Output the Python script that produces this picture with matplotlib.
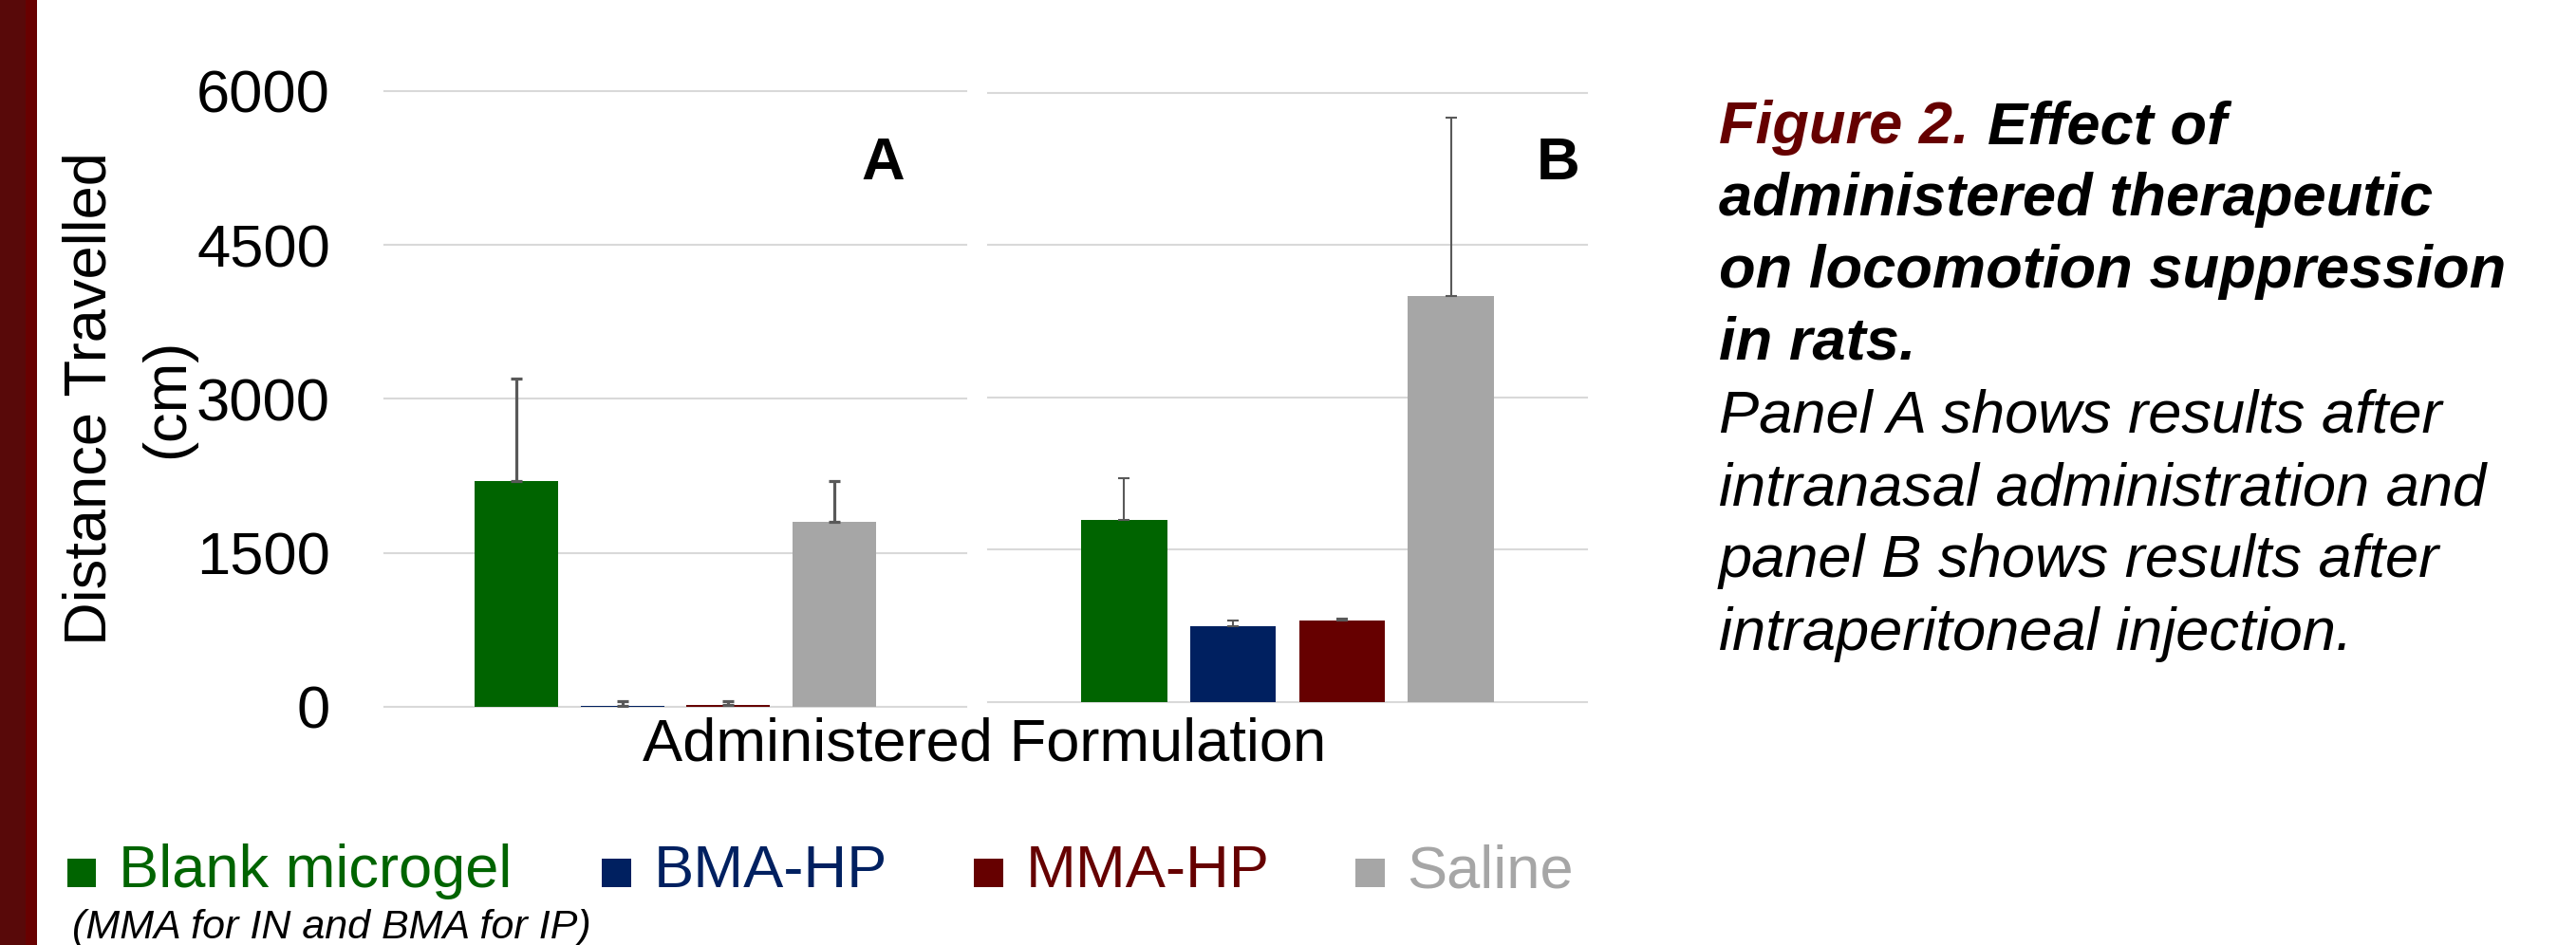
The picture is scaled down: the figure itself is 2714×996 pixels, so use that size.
import matplotlib
matplotlib.use("Agg")
import matplotlib.pyplot as plt
from matplotlib.patches import Rectangle
import numpy as np

# ---------------- data ----------------
categories = ["Blank microgel", "BMA-HP", "MMA-HP", "Saline"]
bar_colors = ["#006400", "#002060", "#660000", "#A6A6A6"]
panel_a_means = [2200, 10, 15, 1805]
panel_a_errors = [1000, 42, 43, 398]
panel_b_means = [1790, 750, 805, 3995]
panel_b_errors = [410, 53, 17, 1755]
y_ticks = [0, 1500, 3000, 4500, 6000]
y_tick_labels = ["0", "1500", "3000", "4500", "6000"]
panel_labels = ["A", "B"]
y_label_lines = ["Distance Travelled", "(cm)"]
x_label = "Administered Formulation"
legend_note = "(MMA for IN and BMA for IP)"
caption_title_red = "Figure 2."
caption_title_rest = "Effect of"
caption_bold_lines = ["administered therapeutic", "on locomotion suppression", "in rats."]
caption_plain_lines = ["Panel A shows results after", "intranasal administration and",
                       "panel B shows results after", "intraperitoneal injection."]

# ---------------- layout ----------------
W, H = 2714, 996
DPI = 100
FS = 45.5
FONT = "Liberation Sans"
plt.rcParams["font.family"] = [FONT, "DejaVu Sans"]

def fx(px):
    return px / W

def fy(py):
    return 1 - py / H

fig = plt.figure(figsize=(W / DPI, H / DPI), dpi=DPI)
fig.patch.set_facecolor("white")

# left decorative band
fig.add_artist(Rectangle((0, 0), fx(27.5), 1, transform=fig.transFigure,
                         facecolor="#580909", edgecolor="none"))
fig.add_artist(Rectangle((fx(27.5), 0), fx(39) - fx(27.5), 1, transform=fig.transFigure,
                         facecolor="#680000", edgecolor="none"))

# axes rectangles (pixel boxes: left, right, top(6000), bottom(0))
panels = [
    dict(box=(405, 1018, 95.7, 745), means=panel_a_means, errs=panel_a_errors,
         elw=2.3, label_x=930, ticks=True),
    dict(box=(1041, 1672, 97.7, 740), means=panel_b_means, errs=panel_b_errors,
         elw=1.5, label_x=1641.5, ticks=False),
]

x = np.arange(len(categories))
for p, lab in zip(panels, panel_labels):
    l, r, t, b = p["box"]
    ax = fig.add_axes([fx(l), fy(b), (r - l) / W, (b - t) / H])
    ax.set_xlim(-1.25, 4.25)
    ax.set_ylim(0, 6000)
    for yv in y_ticks:
        ax.axhline(yv, color="#D9D9D9", lw=1.5, zorder=0, clip_on=False)
    ax.bar(x, p["means"], width=0.79, color=bar_colors, zorder=2)
    ax.errorbar(x, p["means"], yerr=[np.zeros(len(x)), p["errs"]], fmt="none",
                ecolor="#595959", elinewidth=p["elw"], capsize=4.5,
                capthick=p["elw"], zorder=3)
    for s in ax.spines.values():
        s.set_visible(False)
    ax.set_xticks([])
    ax.set_yticks(y_ticks)
    ax.tick_params(axis="y", length=0, pad=41)
    if p["ticks"]:
        ax.set_yticklabels(y_tick_labels, fontsize=FS)
    else:
        ax.set_yticklabels([])
    ax.patch.set_alpha(0)
    fig.text(fx(p["label_x"]), fy(189), lab, fontsize=FS, fontweight="bold",
             ha="center", va="baseline")

# y label (two rotated lines)
for xb, line in zip([112, 193], y_label_lines):
    fig.text(fx(xb), fy(420), line, rotation=90, rotation_mode="anchor",
             ha="center", va="baseline", fontsize=FS)

# x label
fig.text(fx(1037), fy(801), x_label, ha="center", va="baseline", fontsize=FS)

# legend
sq_left = [70.5, 634, 1026, 1428]
txt_left = [124.7, 688.4, 1081, 1482]
for c, name, sl, tl in zip(bar_colors, categories, sq_left, txt_left):
    fig.add_artist(Rectangle((fx(sl), fy(935)), 31 / W, 30 / H, transform=fig.transFigure,
                             facecolor=c, edgecolor="none"))
    fig.text(fx(tl), fy(935), name, color=c, fontsize=FS, ha="left", va="baseline")
fig.text(fx(76), fy(989), legend_note, fontsize=31, style="italic",
         ha="left", va="baseline")

# caption
cap_x = 1811
baselines = [151, 226.5, 303, 378.5, 455.5, 532.5, 608, 685]
fig.text(fx(cap_x), fy(baselines[0]), caption_title_red, color="#660000",
         fontsize=FS, fontweight="bold", style="italic", va="baseline")
fig.text(fx(2094), fy(baselines[0]), caption_title_rest, color="black",
         fontsize=FS, fontweight="bold", style="italic", va="baseline")
for yb, line in zip(baselines[1:4], caption_bold_lines):
    fig.text(fx(cap_x), fy(yb), line, fontsize=FS, fontweight="bold",
             style="italic", va="baseline")
for yb, line in zip(baselines[4:], caption_plain_lines):
    fig.text(fx(cap_x), fy(yb), line, fontsize=FS, style="italic", va="baseline")

fig.savefig("out.png", dpi=DPI, facecolor="white")
